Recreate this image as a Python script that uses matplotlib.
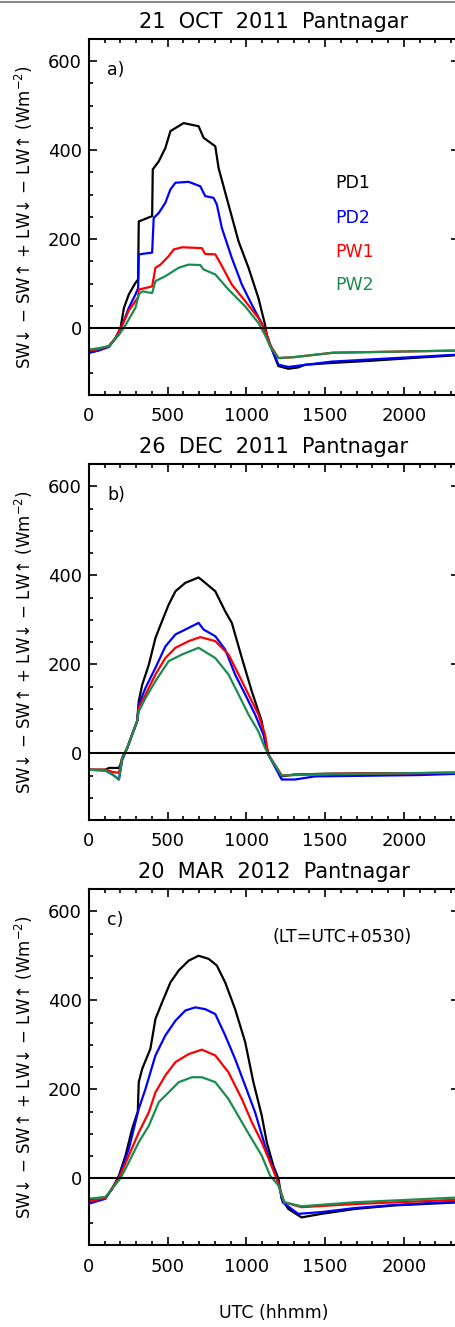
import matplotlib
matplotlib.use('Agg')
import matplotlib.pyplot as plt
from matplotlib.lines import Line2D
from matplotlib.ticker import MultipleLocator

# ---- data (UTC hhmm, net radiation W m-2) ----
titles = ['21  OCT  2011  Pantnagar', '26  DEC  2011  Pantnagar', '20  MAR  2012  Pantnagar']
panel_tags = ['a)', 'b)', 'c)']
names = ['PD1', 'PD2', 'PW1', 'PW2']
colors = ['black', '#0000ff', '#ff0000', '#1a8c4e']

# panel a
a_pd1_x = [0, 60, 127, 169, 200, 222, 253, 295, 312, 316, 401, 405, 443, 485, 517, 601, 696, 728, 802, 823,
           886, 950, 1013, 1076, 1118, 1129, 1150, 1203, 1266, 1329, 1372, 1540, 1794, 2047, 2359]
a_pd1_y = [-55, -50, -40, -22, 0, 46, 76, 102, 110, 240, 252, 357, 375, 405, 443, 461, 454, 428, 409, 360,
           278, 195, 136, 68, 8, -15, -37, -85, -91, -88, -82, -78, -73, -67, -60]
a_pd2_x = [0, 60, 127, 169, 211, 253, 295, 312, 316, 401, 411, 443, 485, 517, 549, 633, 707, 738, 791, 812,
           844, 907, 971, 1034, 1097, 1129, 1150, 1203, 1266, 1540, 2047, 2359]
a_pd2_y = [-55, -50, -42, -22, 7, 46, 76, 90, 166, 170, 248, 259, 282, 312, 327, 329, 319, 297, 293, 278,
           225, 158, 98, 53, 11, -15, -37, -82, -87, -75, -65, -59]
a_pw1_x = [0, 60, 127, 169, 211, 253, 295, 312, 316, 401, 422, 454, 506, 538, 591, 717, 738, 802, 833, 907,
           992, 1076, 1118, 1150, 1203, 1300, 1550, 2359]
a_pw1_y = [-50, -47, -40, -22, 7, 40, 61, 70, 87, 94, 136, 143, 162, 177, 182, 180, 167, 166, 147, 98,
           61, 23, -3, -37, -67, -65, -55, -50]
a_pw2_x = [0, 60, 127, 190, 232, 295, 316, 338, 401, 422, 485, 570, 633, 707, 728, 802, 886, 992, 1076,
           1118, 1150, 1203, 1300, 1550, 2359]
a_pw2_y = [-48, -45, -40, -15, 7, 46, 76, 83, 79, 106, 117, 136, 143, 142, 132, 121, 87, 49, 12,
           -15, -41, -67, -65, -55, -50]

# panel b
b_pd1_x = [0, 105, 127, 190, 200, 211, 243, 274, 306, 316, 338, 380, 422, 464, 506, 549, 612, 696, 728, 802,
           865, 907, 971, 1034, 1097, 1118, 1139, 1224, 1300, 1500, 2359]
b_pd1_y = [-37, -37, -33, -33, -25, -10, 12, 42, 72, 117, 154, 199, 259, 297, 334, 364, 383, 395, 386, 364,
           319, 293, 214, 139, 72, 27, -3, -52, -48, -46, -44]
b_pd2_x = [0, 105, 150, 190, 211, 243, 274, 306, 316, 359, 422, 485, 549, 612, 696, 728, 802, 865, 928, 992,
           1055, 1108, 1139, 1224, 1308, 1435, 2100, 2359]
b_pd2_y = [-37, -39, -48, -59, -15, 12, 42, 72, 109, 147, 192, 240, 267, 278, 293, 278, 263, 233, 177, 132,
           87, 42, -3, -59, -59, -52, -49, -46]
b_pw1_x = [0, 105, 150, 190, 200, 211, 243, 274, 306, 316, 359, 422, 485, 549, 633, 707, 802, 886, 950, 1013,
           1076, 1118, 1139, 1224, 1400, 2359]
b_pw1_y = [-37, -37, -42, -44, -30, -10, 12, 42, 72, 102, 132, 177, 214, 237, 252, 261, 252, 222, 177, 132,
           87, 42, -3, -50, -47, -44]
b_pw2_x = [0, 105, 150, 190, 211, 243, 274, 306, 316, 359, 422, 506, 591, 696, 802, 886, 950, 1013, 1076,
           1118, 1150, 1224, 1400, 2359]
b_pw2_y = [-37, -39, -48, -59, -10, 12, 42, 72, 94, 124, 162, 207, 222, 237, 214, 177, 132, 87, 49,
           12, -10, -50, -48, -43]

# panel c
c_pd1_x = [0, 105, 148, 190, 232, 274, 310, 316, 338, 390, 422, 464, 517, 570, 633, 696, 760, 812, 865, 928,
           992, 1044, 1097, 1129, 1171, 1203, 1224, 1266, 1350, 1477, 1688, 1941, 2359]
c_pd1_y = [-50, -43, -24, 6, 51, 111, 150, 216, 246, 291, 358, 395, 440, 467, 489, 500, 493, 478, 440, 380,
           306, 216, 141, 81, 28, -1, -46, -69, -88, -80, -69, -61, -54]
c_pd2_x = [0, 105, 190, 253, 316, 359, 422, 485, 549, 612, 675, 738, 802, 865, 928, 992, 1055, 1118, 1171,
           1203, 1230, 1329, 1477, 1688, 1941, 2359]
c_pd2_y = [-57, -46, 2, 66, 156, 201, 276, 321, 354, 377, 384, 380, 369, 321, 268, 208, 148, 73, 21,
           -9, -54, -80, -76, -67, -60, -52]
c_pw1_x = [0, 105, 190, 253, 316, 380, 422, 485, 549, 633, 717, 802, 886, 971, 1034, 1097, 1150, 1192, 1240,
           1350, 1688, 2359]
c_pw1_y = [-52, -44, 0, 51, 103, 148, 193, 231, 261, 279, 289, 276, 238, 178, 126, 81, 36, -1, -54,
           -65, -58, -48]
c_pw2_x = [0, 105, 200, 253, 316, 380, 443, 506, 570, 654, 717, 802, 886, 971, 1034, 1097, 1150, 1203, 1240,
           1350, 1688, 2359]
c_pw2_y = [-46, -42, 0, 36, 81, 118, 171, 193, 216, 227, 227, 216, 178, 126, 88, 51, 6, -16, -54,
           -63, -54, -43]

panels = [
    [(a_pd1_x, a_pd1_y), (a_pd2_x, a_pd2_y), (a_pw1_x, a_pw1_y), (a_pw2_x, a_pw2_y)],
    [(b_pd1_x, b_pd1_y), (b_pd2_x, b_pd2_y), (b_pw1_x, b_pw1_y), (b_pw2_x, b_pw2_y)],
    [(c_pd1_x, c_pd1_y), (c_pd2_x, c_pd2_y), (c_pw1_x, c_pw1_y), (c_pw2_x, c_pw2_y)],
]

# ---- figure ----
W, H = 456, 1327
fig = plt.figure(figsize=(W / 100, H / 100), dpi=100)
fig.add_artist(Line2D([0, 1], [1 - 1.5 / H, 1 - 1.5 / H], color='#888888', lw=1.5))

ax_tops = [39, 464, 889]
ax_h = 356
left, right = 89, 459
ylab = 'SW\u2193 \u2212 SW\u2191 + LW\u2193 \u2212 LW\u2191 (Wm$^{-2}$)'

for i, (top, series) in enumerate(zip(ax_tops, panels)):
    ax = fig.add_axes([left / W, 1 - (top + ax_h) / H, (right - left) / W, ax_h / H])
    for (x, y), c in zip(series, colors):
        ax.plot(x, y, color=c, lw=1.6)
    ax.axhline(0, color='black', lw=1.5)
    ax.set_xlim(0, 2350)
    ax.set_ylim(-150, 650)
    ax.xaxis.set_major_locator(MultipleLocator(500))
    ax.xaxis.set_minor_locator(MultipleLocator(100))
    ax.yaxis.set_major_locator(MultipleLocator(200))
    ax.yaxis.set_minor_locator(MultipleLocator(50))
    ax.tick_params(which='both', direction='in', top=True, right=True, width=1.2, labelsize=13)
    ax.tick_params(which='major', length=6)
    ax.tick_params(which='minor', length=3.2)
    ax.tick_params(axis='x', pad=9)
    ax.tick_params(axis='y', pad=5)
    for s in ax.spines.values():
        s.set_linewidth(1.5)
    ax.set_title(titles[i], fontsize=15, pad=8)
    ax.text(0.05, 0.913, panel_tags[i], transform=ax.transAxes, fontsize=12.5, va='center', ha='left')
    fig.text(24 / W, 1 - (top + ax_h / 2) / H, ylab, rotation=90, ha='center', va='center', fontsize=12)
    if i == 0:
        for k, (n, c) in enumerate(zip(names, colors)):
            ax.text((335 - left) / (right - left), (top + ax_h - [183, 218, 252, 285][k]) / ax_h, n,
                    transform=ax.transAxes, color=c, fontsize=12.5, va='center', ha='left')
    if i == 2:
        ax.text((273 - left) / (right - left), (top + ax_h - 937) / ax_h, '(LT=UTC+0530)',
                transform=ax.transAxes, fontsize=12.5, va='center', ha='left')

fig.text(274 / W, 1 - 1313 / H, 'UTC (hhmm)', ha='center', va='center', fontsize=12.5)

fig.savefig('out.png', dpi=100)
